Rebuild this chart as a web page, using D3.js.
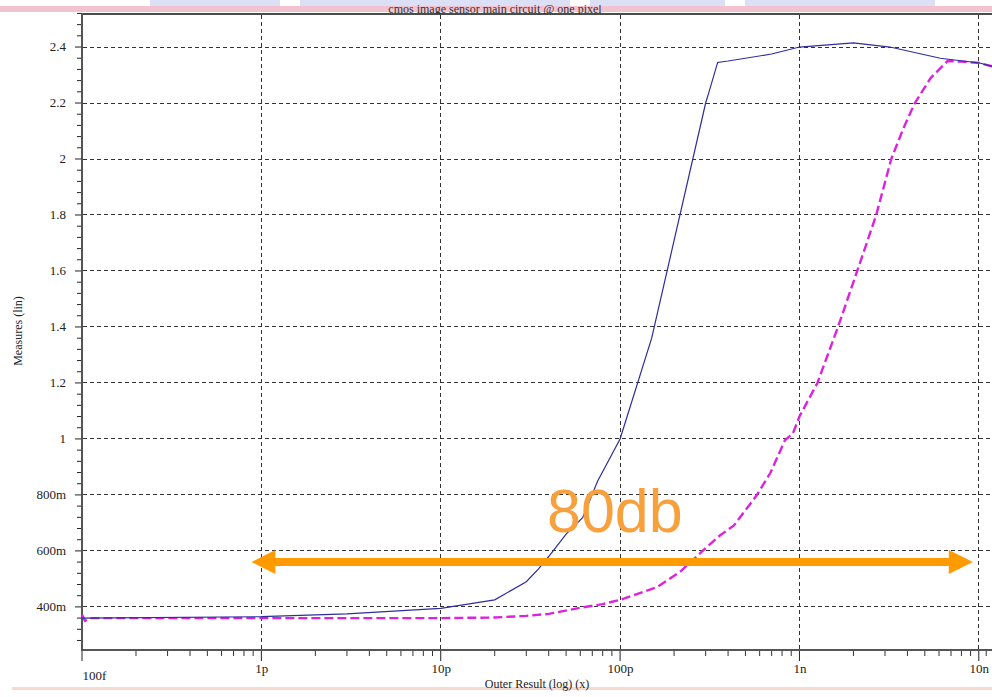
<!doctype html>
<html>
  <meta charset="utf-8">
  <head>
    <script src="https://d3js.org/d3.v7.min.js"></script>
    <style type='text/css'>
      body{ margin:0; background:#fff; }
      line.grid{
        stroke: #333;
        stroke-width: 1px;
        stroke-dasharray: 4,3;
        shape-rendering: crispEdges;
      }
      text.tick{
        font-family: 'Liberation Serif', serif;
        font-size: 13px;
        fill: #222;
      }
      text.lab{
        font-family: 'Liberation Serif', serif;
        font-size: 12px;
        fill: #222;
      }
    </style>
  </head>
  <body>
    <svg id='chart'></svg>
    <script type='text/javascript'>
      // values: [outer result (s), measure]
      var blueX = [1e-13,1e-12,3e-12,1e-11,2e-11,3e-11,3.5e-11,4e-11,5e-11,6.2e-11,7.5e-11,1e-10,1.5e-10,3e-10,3.1e-10,3.5e-10,4e-10,7e-10,1e-9,2e-9,3.2e-9,6.1e-9,1.01e-8,1.2e-8];
      var blueY = [0.36,0.365,0.375,0.395,0.425,0.49,0.535,0.58,0.66,0.72,0.85,1.0,1.36,2.2,2.23,2.345,2.35,2.375,2.4,2.415,2.4,2.36,2.343,2.33];
      var pinkX = [1e-13,1.04e-13,1.1e-13,1e-12,1e-11,2e-11,3e-11,4e-11,6e-11,8e-11,1e-10,1.6e-10,2.16e-10,3e-10,3.6e-10,4.3e-10,5.8e-10,6.9e-10,8.3e-10,9.2e-10,1e-9,1.26e-9,1.64e-9,2.1e-9,2.68e-9,3.25e-9,3.8e-9,4.4e-9,5.4e-9,6.7e-9,8e-9,1.01e-8,1.2e-8];
      var pinkY = [0.372,0.35,0.36,0.36,0.36,0.362,0.368,0.375,0.397,0.41,0.425,0.47,0.525,0.61,0.655,0.69,0.8,0.88,0.995,1.02,1.08,1.2,1.4,1.6,1.8,2.0,2.11,2.2,2.29,2.35,2.348,2.343,2.33];

      var xTickVals = [1e-13,1e-12,1e-11,1e-10,1e-9,1e-8];
      var xTickLabels = ['100f','1p','10p','100p','1n','10n'];
      var yTickVals = [0.4,0.6,0.8,1.0,1.2,1.4,1.6,1.8,2.0,2.2,2.4];
      var yTickLabels = ['400m','600m','800m','1','1.2','1.4','1.6','1.8','2','2.2','2.4'];

      var title = 'cmos image sensor main circuit @ one pixel';
      var xTitle = 'Outer Result (log) (x)';
      var yTitle = 'Measures (lin)';
      var span = [1e-12, 1e-8];   // the 80db arrow
      var spanLabel = '80db';

      var w = 992, h = 697;
      var svg = d3.select('svg').attr('width',w).attr('height',h);

      var xScale = d3.scaleLog().domain([1e-13,1.2e-8]).range([82,993]);
      var yScale = d3.scaleLinear().domain([0.246,2.518]).range([650,14]);

      // header strip (watermark + pink band) and footer line
      var wm = [[150,280],[300,570],[590,725],[745,935]];
      svg.selectAll('rect.wm').data(wm).enter().append('rect')
        .attr('x',d=>d[0]).attr('y',0).attr('width',d=>d[1]-d[0]).attr('height',7)
        .attr('fill','#dbe0f7');
      svg.append('rect').attr('x',0).attr('y',6).attr('width',w).attr('height',6)
        .attr('fill','#f3c2cf');
      svg.append('clipPath').attr('id','tclip').append('rect')
        .attr('x',0).attr('y',5).attr('width',w).attr('height',9);
      svg.append('text').attr('class','lab').attr('x',495).attr('y',13)
        .attr('clip-path','url(#tclip)')
        .attr('text-anchor','middle').style('font-size','12px').style('fill','#333')
        .text(title);
      svg.append('rect').attr('x',12).attr('y',687).attr('width',w).attr('height',3)
        .attr('fill','#f6d9d0');

      // grid
      svg.selectAll('line.hgrid').data(yTickVals).enter().append('line')
        .attr('class','grid').attr('x1',83).attr('x2',w)
        .attr('y1',d=>yScale(d)).attr('y2',d=>yScale(d));
      svg.selectAll('line.vgrid').data(xTickVals.slice(1)).enter().append('line')
        .attr('class','grid').attr('y1',15).attr('y2',649)
        .attr('x1',d=>xScale(d)).attr('x2',d=>xScale(d));

      // frame
      svg.append('line').attr('x1',81).attr('x2',w).attr('y1',14).attr('y2',14)
        .style('stroke','#111').style('stroke-width',1.5);
      svg.append('line').attr('x1',82).attr('x2',82).attr('y1',13).attr('y2',651)
        .style('stroke','#555').style('stroke-width',2);
      svg.append('line').attr('x1',81).attr('x2',w).attr('y1',650).attr('y2',650)
        .style('stroke','#555').style('stroke-width',2);

      // y ticks (major + 4 minor between)
      var yMinor = d3.range(0.28,2.52,0.04).filter(v=>Math.abs(v*5-Math.round(v*5))>1e-6);
      svg.selectAll('line.ymin').data(yMinor).enter().append('line')
        .attr('x1',77).attr('x2',81).attr('y1',d=>yScale(d)).attr('y2',d=>yScale(d))
        .style('stroke','#222');
      svg.selectAll('line.ymaj').data(yTickVals).enter().append('line')
        .attr('x1',75).attr('x2',81).attr('y1',d=>yScale(d)).attr('y2',d=>yScale(d))
        .style('stroke','#222');
      svg.selectAll('text.ylab').data(yTickVals).enter().append('text')
        .attr('class','tick').attr('text-anchor','end')
        .attr('x',66).attr('y',d=>yScale(d)+4)
        .text((d,i)=>yTickLabels[i]);

      // x ticks (decades + 2..9)
      var xMinor = [];
      xTickVals.slice(0,-1).forEach(function(v){
        for(var k=2;k<10;k++) xMinor.push(v*k);
      });
      xMinor.push(1.1e-8);
      svg.selectAll('line.xmin').data(xMinor).enter().append('line')
        .attr('y1',651).attr('y2',656).attr('x1',d=>xScale(d)).attr('x2',d=>xScale(d))
        .style('stroke','#333');
      svg.selectAll('line.xmaj').data(xTickVals).enter().append('line')
        .attr('y1',651).attr('y2',661).attr('x1',d=>xScale(d)).attr('x2',d=>xScale(d))
        .style('stroke','#222');
      svg.selectAll('text.xlab').data(xTickVals).enter().append('text')
        .attr('class','tick')
        .attr('text-anchor',(d,i)=>i==0?'start':'middle')
        .attr('x',d=>xScale(d)+0.5).attr('y',(d,i)=>i==0?680:673)
        .text((d,i)=>xTickLabels[i]);

      svg.append('text').attr('class','lab').attr('x',537).attr('y',688)
        .attr('text-anchor','middle').text(xTitle);
      svg.append('text').attr('class','lab')
        .attr('transform','translate(22,331) rotate(-90)')
        .attr('text-anchor','middle').text(yTitle);

      // curves
      var line = d3.line().x(d=>xScale(d[0])).y(d=>yScale(d[1]));
      var plot = svg.append('g');
      plot.append('path').datum(pinkX.map((x,i)=>[x,pinkY[i]]))
        .attr('d',line).attr('fill','none')
        .style('stroke','#dd22dd').style('stroke-width',2.4)
        .style('stroke-dasharray','9,4');
      plot.append('path').datum(blueX.map((x,i)=>[x,blueY[i]]))
        .attr('d',line).attr('fill','none')
        .style('stroke','#2d2d9c').style('stroke-width',1.2);

      // 80db arrow
      var ay = 562, x0 = xScale(span[0]) - 10, x1 = xScale(span[1]) - 6;
      var orange = '#ff9a00';
      svg.append('line').attr('x1',x0+20).attr('x2',x1-20).attr('y1',ay).attr('y2',ay)
        .style('stroke',orange).style('stroke-width',8);
      svg.append('path')
        .attr('d','M'+x0+','+ay+'L'+(x0+24)+','+(ay-12)+'L'+(x0+24)+','+(ay+12)+'Z')
        .attr('fill',orange);
      svg.append('path')
        .attr('d','M'+x1+','+ay+'L'+(x1-24)+','+(ay-12)+'L'+(x1-24)+','+(ay+12)+'Z')
        .attr('fill',orange);
      svg.append('text').attr('x',547).attr('y',532)
        .style('font-family','Liberation Sans, Arial, sans-serif')
        .style('font-size','61px').style('fill','#f7a03c')
        .text(spanLabel);
    </script>
  </body>
</html>
